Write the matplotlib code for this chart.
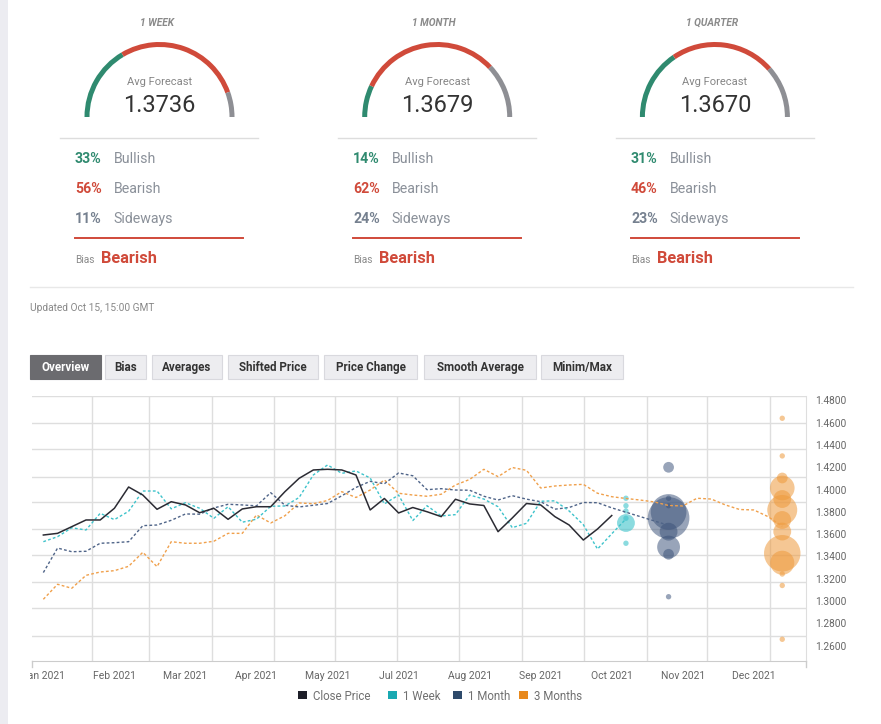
import numpy as np
import matplotlib
matplotlib.use('Agg')
import matplotlib.pyplot as plt
from matplotlib.patches import Wedge, Rectangle
from matplotlib.transforms import Bbox, TransformedBbox

plt.rcParams['font.family'] = ['Roboto', 'DejaVu Sans']

# poll panels
horizons = ['1 WEEK', '1 MONTH', '1 QUARTER']
avg_forecast = ['1.3736', '1.3679', '1.3670']
bullish = [33, 14, 31]
bearish = [56, 62, 46]
sideways = [11, 24, 23]
bias = ['Bearish', 'Bearish', 'Bearish']

# weekly series (week 0 = first week of Jan 2021)
close_price = [1.3592, 1.3607, 1.3667, 1.3727, 1.3727, 1.3832, 1.4023, 1.3951, 1.3823, 1.3891,
               1.3862, 1.3792, 1.3832, 1.3733, 1.3826, 1.3846, 1.3846, 1.3981, 1.4101, 1.4176,
               1.4182, 1.4176, 1.4131, 1.3817, 1.3920, 1.3790, 1.3839, 1.3801, 1.3757, 1.3913,
               1.3871, 1.3857, 1.3622, 1.3745, 1.3875, 1.3862, 1.3757, 1.3682, 1.3547, 1.3646,
               1.3767]
week_1 = [1.3532, 1.3577, 1.3657, 1.3637, 1.3787, 1.3730, 1.3805, 1.3987, 1.3987, 1.3827,
          1.3882, 1.3832, 1.3742, 1.3846, 1.3707, 1.3734, 1.3850, 1.3853, 1.3929, 1.4131,
          1.4221, 1.4146, 1.4167, 1.4104, 1.3871, 1.3951, 1.3722, 1.3855, 1.3763, 1.3775,
          1.3951, 1.3915, 1.3846, 1.3658, 1.3697, 1.3895, 1.3899, 1.3808, 1.3685, 1.3466,
          1.3603, 1.3736]
month_1 = [1.3255, 1.3475, 1.3442, 1.3446, 1.3518, 1.3523, 1.3532, 1.3676, 1.3682, 1.3724,
           1.3781, 1.3779, 1.3835, 1.3868, 1.3862, 1.3854, 1.3972, 1.3859, 1.3844, 1.3859,
           1.3875, 1.3944, 1.4019, 1.4074, 1.4052, 1.4149, 1.4124, 1.3999, 1.4008, 1.3996,
           1.3994, 1.3940, 1.3906, 1.3945, 1.3914, 1.3891, 1.3824, 1.3839, 1.3884, 1.3882,
           1.3836, 1.3679]
month_1_weeks = list(range(41)) + [44]
months_3 = [1.3015, 1.3150, 1.3114, 1.3230, 1.3260, 1.3272, 1.3311, 1.3437, 1.3308, 1.3532,
            1.3518, 1.3518, 1.3536, 1.3607, 1.3607, 1.3772, 1.3700, 1.3765, 1.3880, 1.3873,
            1.3902, 1.3981, 1.3929, 1.3996, 1.4086, 1.3967, 1.3951, 1.3940, 1.3958, 1.4041,
            1.4091, 1.4182, 1.4116, 1.4198, 1.4173, 1.4014, 1.4032, 1.4041, 1.4047, 1.3967,
            1.3936, 1.3920, 1.3906, 1.3889, 1.3857, 1.3853, 1.3922, 1.3915, 1.3862, 1.3821,
            1.3817, 1.3757, 1.3670]

# forecast bubbles: price and number of votes
wk1_week = 41
wk1_prices = [1.3922, 1.3855, 1.3808, 1.3742, 1.3700, 1.3518]
wk1_votes = [1, 1, 1, 1, 11, 1]
mo1_week = 44
mo1_prices = [1.4200, 1.3922, 1.3855, 1.3799, 1.3745, 1.3622, 1.3484, 1.3419, 1.3038]
mo1_votes = [4, 1, 1, 44, 60, 11, 18, 4, 1]
mo3_week = 52
mo3_prices = [1.4640, 1.4302, 1.4104, 1.4014, 1.3915, 1.3817, 1.3727, 1.3623, 1.3428, 1.3343,
              1.3242, 1.3139, 1.2656]
mo3_votes = [1, 1, 4, 21, 11, 31, 11, 11, 46, 20, 1, 1, 1]

tick_weeks = [0, 5, 10, 15, 20, 25, 30, 35, 40, 45, 50]
tick_labels = ['Jan 2021', 'Feb 2021', 'Mar 2021', 'Apr 2021', 'May 2021', 'Jul 2021',
               'Aug 2021', 'Sep 2021', 'Oct 2021', 'Nov 2021', 'Dec 2021']
grid_weeks = [3.45, 7.46, 11.89, 16.21, 20.53, 24.87, 29.27, 33.71, 38.03, 42.46, 46.73, 51.16]
grid_prices = [1.4838, 1.4598, 1.4364, 1.4113, 1.3889, 1.3646, 1.3413, 1.3170, 1.2937, 1.2685]
price_ticks = np.arange(1.26, 1.4801, 0.02)

buttons = ['Overview', 'Bias', 'Averages', 'Shifted Price', 'Price Change', 'Smooth Average', 'Minim/Max']
button_x = [(30, 101), (105, 146), (152, 222), (228, 318), (324, 417), (424, 536), (541, 623)]

legend_labels = ['Close Price', '1 Week', '1 Month', '3 Months']
legend_x = [298, 388, 453, 519]

GREEN = '#2f8a6f'
RED = '#d04a3a'
GREY = '#8e8f94'
TXT = '#8a9099'
c_close, c_w, c_m, c_q = '#2b2b33', '#3ec3cb', '#4f6488', '#f0a04b'

fig = plt.figure(figsize=(8.81, 7.24), dpi=100)
ov = fig.add_axes([0, 0, 1, 1])
ov.set_xlim(0, 881)
ov.set_ylim(724, 0)
ov.axis('off')

ov.add_patch(Rectangle((0, 0), 8, 724, color='#ececf1', lw=0))

# gauges and poll text
for i in range(3):
    cx = 159.5 + 277.7 * i
    x0 = 75 + 278 * i
    ov.text(cx - 3, 26, horizons[i], ha='center', va='baseline', fontsize=7.3,
            style='italic', weight='bold', color='#8a8a8a')
    a1 = 180 + bullish[i] * 1.8
    a2 = a1 + bearish[i] * 1.8
    for t1, t2, c in [(180, a1, GREEN), (a1, a2, RED), (a2, 360, GREY)]:
        ov.add_patch(Wedge((cx, 117), 75, t1, t2, width=5, color=c, lw=0))
    ov.text(cx, 85, 'Avg Forecast', ha='center', va='baseline', fontsize=8, color='#858585')
    ov.text(cx, 111.5, avg_forecast[i], ha='center', va='baseline', fontsize=17, color='#333333')
    ov.plot([x0 - 15, x0 + 183], [138, 138], color='#dddddd', lw=1)
    rows = [(bullish[i], 'Bullish', GREEN), (bearish[i], 'Bearish', RED),
            (sideways[i], 'Sideways', '#75808f')]
    for j, (pct, name, col) in enumerate(rows):
        yb = 162.7 + 30 * j
        ov.text(x0, yb, f'{pct}%', ha='left', va='baseline', fontsize=10.2,
                weight='bold', color=col)
        ov.text(x0 + 38.5, yb, name, ha='left', va='baseline', fontsize=10.2, color=TXT)
    ov.plot([x0, x0 + 168], [238, 238], color=RED, lw=1.4)
    ov.text(x0, 263, 'Bias', ha='left', va='baseline', fontsize=7.3, color='#8a8a8a')
    ov.text(x0 + 25.7, 263, bias[i], ha='left', va='baseline', fontsize=11.8,
            weight='bold', color=RED)

ov.plot([30, 853], [287, 287], color='#e8e8e8', lw=1)
ov.text(30, 308, 'Updated Oct 15, 15:00 GMT', ha='left', va='center', fontsize=7.3, color='#888888')

for k, (lab, (bx0, bx1)) in enumerate(zip(buttons, button_x)):
    active = k == 0
    ov.add_patch(Rectangle((bx0, 355), bx1 - bx0, 24, facecolor='#6b6b6f' if active else '#ededf0',
                           edgecolor='#6b6b6f' if active else '#d9d9de', lw=0.8))
    ov.text((bx0 + bx1) / 2, 367.5, lab, ha='center', va='center', fontsize=8.4, weight='bold',
            color='white' if active else '#333333')

for lab, lx, c in zip(legend_labels, legend_x, ['#1e1f29', '#19a9b2', '#2e4a6b', '#e8891d']):
    ov.add_patch(Rectangle((lx, 691), 9, 8, color=c, lw=0))
    ov.text(lx + 15, 696, lab, ha='left', va='center', fontsize=8.3, color='#707070')

# main chart
ax = fig.add_axes([31.7 / 881, (724 - 661) / 724, 774 / 881, 265 / 724])
ax.set_facecolor('none')
ax.set_xlim(-0.82, 53.65)
ax.set_ylim(1.2461, 1.4840)

ax.scatter([wk1_week] * len(wk1_prices), wk1_prices, s=[15 * v for v in wk1_votes],
           color=c_w, alpha=0.6, lw=0, zorder=2)
ax.scatter([mo1_week] * len(mo1_prices), mo1_prices, s=[15 * v for v in mo1_votes],
           color='#3b5279', alpha=0.52, lw=0, zorder=2)
ax.scatter([mo3_week] * len(mo3_prices), mo3_prices, s=[15 * v for v in mo3_votes],
           color='#ee9a3c', alpha=0.55, lw=0, zorder=2)

ax.plot(range(len(months_3)), months_3, color=c_q, lw=1.0, ls=(0, (2, 1.6)), zorder=3)
ax.plot(month_1_weeks, month_1, color=c_m, lw=1.0, ls=(0, (2, 1.6)), zorder=3)
ax.plot(range(len(week_1)), week_1, color=c_w, lw=1.0, ls=(0, (2, 1.6)), zorder=3)
ax.plot(range(len(close_price)), close_price, color=c_close, lw=1.1, zorder=4)

ax.set_xticks(grid_weeks, minor=True)
ax.set_yticks(grid_prices, minor=True)
ax.grid(which='minor', color='#dedede', lw=1)
ax.grid(which='major', visible=False)
ax.set_xticks(tick_weeks, tick_labels)
ax.yaxis.tick_right()
ax.set_yticks(price_ticks, [f'{v:.4f}' for v in price_ticks])
ax.tick_params(which='both', length=0)
ax.tick_params(axis='x', pad=7.5, labelsize=7.5, labelcolor='#666666')
ax.tick_params(axis='y', pad=6.8, labelsize=7.3, labelcolor='#666666')
for s in ['top', 'left']:
    ax.spines[s].set_visible(False)
ax.spines['right'].set_color('#dedede')
ax.spines['bottom'].set_color('#cccccc')
for xe in [0, 1]:
    ax.plot([xe, xe], [0, -0.023], transform=ax.transAxes, color='#cccccc', lw=1, clip_on=False)

clip = TransformedBbox(Bbox([[30 / 881, 0], [1, 1]]), fig.transFigure)
for lbl in ax.get_xticklabels():
    lbl.set_clip_on(True)
    lbl.set_clip_box(clip)

fig.savefig('out.png', dpi=100)
